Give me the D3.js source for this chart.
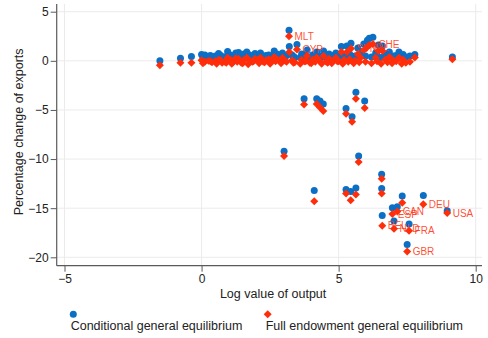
<!DOCTYPE html>
<html>
<head>
<meta charset="utf-8">
<script src="https://cdn.jsdelivr.net/npm/d3@7"></script>
<style>
  html, body { margin: 0; padding: 0; background: #fff; }
  svg { display: block; font-family: Arial, "Liberation Sans", sans-serif; }
</style>
</head>
<body>
<svg id="chart" width="488" height="338"></svg>
<script>
// Log value of output for each country
const logOutput = [
  -1.52, -0.77, -0.37,
  0.00, 0.12, 0.25, 0.38, 0.50, 0.62, 0.75, 0.85, 0.95, 1.05, 1.15, 1.25, 1.35, 1.45,
  1.55, 1.65, 1.75, 1.85, 1.95, 2.05, 2.15, 2.25, 2.35, 2.45, 2.55, 2.65, 2.75, 2.85,
  2.95, 3.05, 3.19, 3.20, 3.30, 3.40, 3.48, 3.65, 3.75, 3.85, 3.95, 4.05, 4.20, 4.30,
  4.45, 4.55, 4.65, 4.80, 4.90, 5.00, 5.10, 5.20, 5.30, 5.40, 5.45, 5.60, 5.70, 5.80,
  5.92, 6.05, 6.12, 6.25, 6.35, 6.45, 6.60, 6.70, 6.85, 7.00, 7.20, 7.35, 7.78, 9.15,
  0.05, 0.32, 0.55, 0.70, 0.90, 1.10, 1.30, 1.50, 1.70, 1.90, 2.10, 2.30, 2.50, 2.70,
  2.90, 3.10, 3.35, 3.60, 3.80, 4.00, 4.15, 4.38, 4.60, 4.75, 4.95, 5.15, 5.35, 5.55,
  5.75, 5.98, 6.20, 6.40, 6.55, 6.78, 6.95, 7.10, 7.30, 7.45, 7.60,
  3.01, 3.74, 4.11, 4.20, 4.32, 4.44, 5.27, 5.49, 5.63, 5.95, 5.73, 5.27, 5.44, 5.63,
  6.57, 6.57, 6.59, 6.96, 7.14, 7.02, 7.57, 7.50, 7.32, 8.09, 8.96
];

// Percentage change of exports, conditional general equilibrium
const conditionalGE = [
  0.00, 0.25, 0.45,
  0.65, 0.60, 0.40, 0.20, 0.50, 0.75, 0.40, 0.30, 0.95, 0.60, 0.50, 0.80, 0.85, 0.35,
  0.70, 0.90, 0.60, 0.40, 0.75, 0.55, 0.80, 0.30, 0.55, 0.60, 0.40, 1.00, 0.70, 0.50,
  0.80, 0.45, 3.10, 1.45, 0.60, 0.35, 1.65, 0.70, 0.50, 1.10, 0.30, 0.60, 0.90, 0.50,
  1.00, 0.40, 0.70, 0.55, 0.80, 0.45, 1.45, 0.60, 1.50, 0.70, 1.80, 0.50, 1.30, 0.90,
  1.70, 2.10, 2.30, 2.40, 0.80, 1.60, 1.50, 0.60, 0.90, 0.50, 0.90, 0.65, 0.65, 0.40,
  0.35, 0.55, 0.30, 0.55, 0.45, 0.35, 0.50, 0.45, 0.35, 0.55, 0.40, 0.45, 0.35, 0.55,
  0.40, 0.55, 0.45, 0.35, 0.55, 0.40, 0.50, 0.35, 0.45, 0.40, 0.55, 0.35, 0.50, 0.40,
  0.45, 0.50, 0.40, 0.55, 0.35, 0.45, 0.40, 0.55, 0.35, 0.40, 0.50,
  -9.20, -3.85, -13.20, -3.85, -4.10, -4.40, -4.85, -5.70, -3.20, -4.10, -9.70, -13.10, -13.30, -12.95,
  -11.55, -13.00, -15.75, -14.95, -14.85, -16.30, -16.60, -18.70, -13.75, -13.70, -15.25
];

// Percentage change of exports, full endowment general equilibrium
const fullEndowmentGE = [
  -0.45, -0.20, -0.20,
  0.05, -0.10, 0.00, -0.15, -0.05, 0.10, -0.20, -0.10, 0.30, 0.10, -0.15, 0.25, 0.20, -0.20,
  0.10, 0.30, 0.00, -0.10, 0.20, 0.10, 0.30, -0.10, 0.05, 0.15, -0.10, 0.40, 0.15, 0.00,
  0.30, 0.00, 2.50, 0.90, 0.05, -0.15, 1.15, 0.10, -0.05, 0.50, -0.20, 0.10, 0.35, 0.00,
  0.50, -0.10, 0.20, 0.00, 0.30, -0.05, 0.90, 0.10, 0.90, 0.15, 1.25, 0.00, 0.70, 0.30,
  1.10, 1.40, 1.60, 1.70, 0.30, 1.00, 1.00, 0.10, 0.40, 0.00, 0.30, 0.10, 0.35, 0.15,
  -0.25, -0.05, -0.30, 0.05, -0.20, -0.30, -0.10, -0.25, -0.35, -0.05, -0.25, -0.15, -0.30, -0.05,
  -0.25, -0.10, -0.20, -0.30, -0.05, -0.25, -0.10, -0.30, -0.20, -0.25, -0.05, -0.30, -0.10, -0.25,
  -0.15, -0.10, -0.25, -0.05, -0.30, -0.15, -0.25, -0.05, -0.30, -0.20, -0.10,
  -9.70, -4.45, -14.30, -4.40, -4.75, -5.10, -5.40, -6.20, -3.85, -4.80, -10.30, -13.50, -14.20, -13.60,
  -12.00, -13.50, -16.80, -15.60, -15.35, -17.10, -17.30, -19.40, -14.45, -14.60, -15.50
];

// Country codes shown next to the full endowment markers, keyed by log output
const labelledCountries = [
  { code: "MLT", at: 3.19 }, { code: "CYP", at: 3.48 }, { code: "SVN", at: 5.45 },
  { code: "IRL", at: 6.05 }, { code: "CHE", at: 6.25 },
  { code: "BEL", at: 6.59 }, { code: "ESP", at: 6.96 }, { code: "CAN", at: 7.14 },
  { code: "NLD", at: 7.02 }, { code: "FRA", at: 7.57 }, { code: "GBR", at: 7.50 },
  { code: "DEU", at: 8.09 }, { code: "USA", at: 8.96 }
];

const xTicks = [-5, 0, 5, 10];
const yTicks = [5, 0, -5, -10, -15, -20];
const seriesNames = ["Conditional general equilibrium", "Full endowment general equilibrium"];

const BLUE = "#0b6fc6";
const RED = "#ff2d0a";
const AXIS = "#5a5a5a";
const GRID = "#ebebeb";

const svg = d3.select("#chart");

const plot = { left: 56.7, right: 482, top: 4, bottom: 265.7 };
const x = d3.scaleLinear().domain([-5, 10]).range([64.5, 475.7]);
const y = d3.scaleLinear().domain([5, -20]).range([11.7, 257.3]);

// grid lines
svg.append("g").selectAll("line").data(yTicks).join("line")
  .attr("x1", plot.left).attr("x2", plot.right)
  .attr("y1", d => y(d)).attr("y2", d => y(d))
  .attr("stroke", GRID).attr("stroke-width", 1);
svg.append("g").selectAll("line").data(xTicks).join("line")
  .attr("y1", plot.top).attr("y2", plot.bottom)
  .attr("x1", d => x(d)).attr("x2", d => x(d))
  .attr("stroke", GRID).attr("stroke-width", 1);

// axes
const yAxis = svg.append("g")
  .attr("transform", `translate(${plot.left},0)`)
  .call(d3.axisLeft(y).tickValues(yTicks).tickSize(6).tickPadding(2).tickFormat(d3.format("d")));
const xAxis = svg.append("g")
  .attr("transform", `translate(0,${plot.bottom})`)
  .call(d3.axisBottom(x).tickValues(xTicks).tickSize(6).tickPadding(3).tickFormat(d3.format("d")));
[xAxis, yAxis].forEach(g => {
  g.select(".domain").remove();
  g.selectAll(".tick line").attr("stroke", AXIS);
  g.selectAll(".tick text").attr("fill", "#222").style("font-size", "12px")
    .style("font-family", "Arial, 'Liberation Sans', sans-serif");
});
svg.append("line").attr("x1", plot.left).attr("x2", plot.left)
  .attr("y1", plot.top).attr("y2", plot.bottom).attr("stroke", AXIS).attr("stroke-width", 1.2);
svg.append("line").attr("x1", plot.left).attr("x2", plot.right)
  .attr("y1", plot.bottom).attr("y2", plot.bottom).attr("stroke", AXIS).attr("stroke-width", 1.2);

// axis titles
svg.append("text").attr("x", x(2.5) + 3).attr("y", 298)
  .attr("text-anchor", "middle").style("font-size", "12.5px").attr("fill", "#222")
  .text("Log value of output");
svg.append("text").attr("transform", `translate(23,${(plot.top + plot.bottom) / 2 - 3}) rotate(-90)`)
  .attr("text-anchor", "middle").style("font-size", "12.5px").attr("fill", "#222")
  .text("Percentage change of exports");

const diamond = d3.symbol().type(d3.symbolSquare).size(32);

// conditional GE markers
svg.append("g").selectAll("circle").data(logOutput).join("circle")
  .attr("cx", d => x(d))
  .attr("cy", (d, i) => y(conditionalGE[i]))
  .attr("r", 3.5)
  .attr("fill", BLUE);

// full endowment GE markers
svg.append("g").selectAll("path").data(logOutput).join("path")
  .attr("d", diamond)
  .attr("transform", (d, i) => `translate(${x(d)},${y(fullEndowmentGE[i])}) rotate(45)`)
  .attr("fill", RED);

// country labels, placed to the right of the full endowment marker
svg.append("g").selectAll("text").data(labelledCountries).join("text")
  .attr("x", d => x(d.at) + 5.5)
  .attr("y", d => y(fullEndowmentGE[logOutput.lastIndexOf(d.at)]))
  .attr("dy", "0.35em")
  .style("font-size", "10px")
  .attr("fill", RED)
  .attr("fill-opacity", 0.85)
  .text(d => d.code);

// legend
const legend = svg.append("g");
legend.append("circle").attr("cx", 73.3).attr("cy", 314.3).attr("r", 3.5).attr("fill", BLUE);
legend.append("path").attr("d", diamond)
  .attr("transform", "translate(267.7,314.3) rotate(45)").attr("fill", RED);
legend.append("text").attr("x", 70.7).attr("y", 329.5).style("font-size", "12.5px").attr("fill", "#222")
  .text(seriesNames[0]);
legend.append("text").attr("x", 265.7).attr("y", 329.5).style("font-size", "12.5px").attr("fill", "#222")
  .text(seriesNames[1]);
</script>
</body>
</html>
